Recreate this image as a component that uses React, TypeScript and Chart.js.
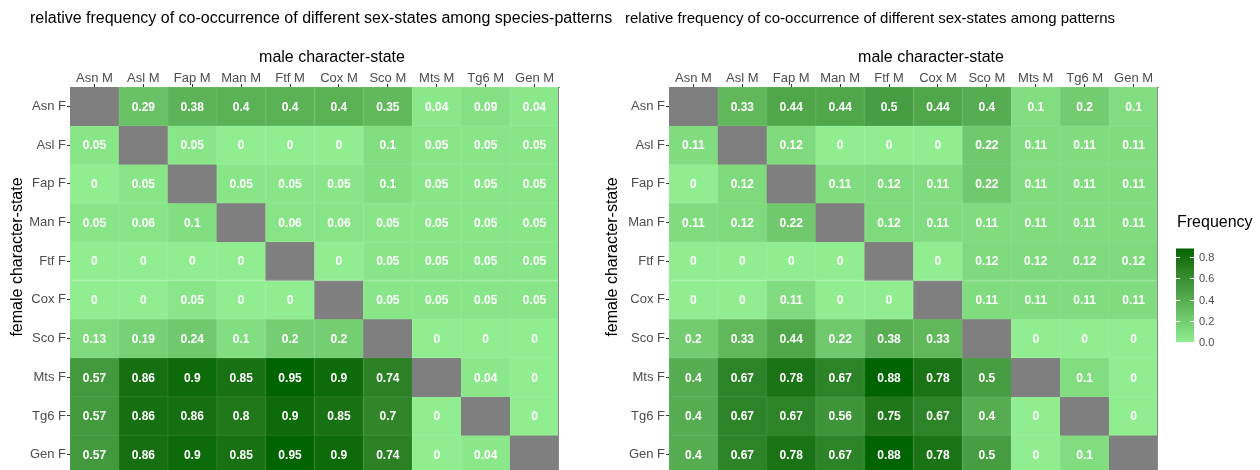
import React, { useEffect, useRef } from "react";
import { Chart, registerables } from "chart.js";

Chart.register(...registerables);

const maleStates = ["Asn M", "Asl M", "Fap M", "Man M", "Ftf M", "Cox M", "Sco M", "Mts M", "Tg6 M", "Gen M"];
const femaleStates = ["Asn F", "Asl F", "Fap F", "Man F", "Ftf F", "Cox F", "Sco F", "Mts F", "Tg6 F", "Gen F"];

// rows = female state, columns = male state; null = same state (diagonal)
const speciesFreq: (number | null)[][] = [
  [null, 0.29, 0.38, 0.4, 0.4, 0.4, 0.35, 0.04, 0.09, 0.04],
  [0.05, null, 0.05, 0, 0, 0, 0.1, 0.05, 0.05, 0.05],
  [0, 0.05, null, 0.05, 0.05, 0.05, 0.1, 0.05, 0.05, 0.05],
  [0.05, 0.06, 0.1, null, 0.06, 0.06, 0.05, 0.05, 0.05, 0.05],
  [0, 0, 0, 0, null, 0, 0.05, 0.05, 0.05, 0.05],
  [0, 0, 0.05, 0, 0, null, 0.05, 0.05, 0.05, 0.05],
  [0.13, 0.19, 0.24, 0.1, 0.2, 0.2, null, 0, 0, 0],
  [0.57, 0.86, 0.9, 0.85, 0.95, 0.9, 0.74, null, 0.04, 0],
  [0.57, 0.86, 0.86, 0.8, 0.9, 0.85, 0.7, 0, null, 0],
  [0.57, 0.86, 0.9, 0.85, 0.95, 0.9, 0.74, 0, 0.04, null],
];

const patternFreq: (number | null)[][] = [
  [null, 0.33, 0.44, 0.44, 0.5, 0.44, 0.4, 0.1, 0.2, 0.1],
  [0.11, null, 0.12, 0, 0, 0, 0.22, 0.11, 0.11, 0.11],
  [0, 0.12, null, 0.11, 0.12, 0.11, 0.22, 0.11, 0.11, 0.11],
  [0.11, 0.12, 0.22, null, 0.12, 0.11, 0.11, 0.11, 0.11, 0.11],
  [0, 0, 0, 0, null, 0, 0.12, 0.12, 0.12, 0.12],
  [0, 0, 0.11, 0, 0, null, 0.11, 0.11, 0.11, 0.11],
  [0.2, 0.33, 0.44, 0.22, 0.38, 0.33, null, 0, 0, 0],
  [0.4, 0.67, 0.78, 0.67, 0.88, 0.78, 0.5, null, 0.1, 0],
  [0.4, 0.67, 0.67, 0.56, 0.75, 0.67, 0.4, 0, null, 0],
  [0.4, 0.67, 0.78, 0.67, 0.88, 0.78, 0.5, 0, 0.1, null],
];

const legendTicks = [0, 0.2, 0.4, 0.6, 0.8];

const FONT = '"Liberation Sans", Arial, Helvetica, sans-serif';
const LOW = "#90EE90";
const HIGH = "#006400";
const NA_COLOR = "#7F7F7F";

// ---- Lab colour interpolation (like ggplot's scale_fill_gradient) ----
function hexToRgb(h: string): number[] {
  const n = parseInt(h.slice(1), 16);
  return [(n >> 16) & 255, (n >> 8) & 255, n & 255];
}
function toLin(c: number) {
  c /= 255;
  return c <= 0.04045 ? c / 12.92 : Math.pow((c + 0.055) / 1.055, 2.4);
}
function fromLin(c: number) {
  const v = c <= 0.0031308 ? 12.92 * c : 1.055 * Math.pow(c, 1 / 2.4) - 0.055;
  return Math.round(Math.max(0, Math.min(1, v)) * 255);
}
const XN = 0.95047, YN = 1, ZN = 1.08883;
function rgbToLab(rgb: number[]): number[] {
  const [R, G, B] = rgb.map(toLin);
  const X = 0.4124 * R + 0.3576 * G + 0.1805 * B;
  const Y = 0.2126 * R + 0.7152 * G + 0.0722 * B;
  const Z = 0.0193 * R + 0.1192 * G + 0.9505 * B;
  const f = (t: number) => (t > 0.008856 ? Math.cbrt(t) : 7.787 * t + 16 / 116);
  const fx = f(X / XN), fy = f(Y / YN), fz = f(Z / ZN);
  return [116 * fy - 16, 500 * (fx - fy), 200 * (fy - fz)];
}
function labToRgb(lab: number[]): number[] {
  const [L, a, b] = lab;
  const fy = (L + 16) / 116;
  const fx = fy + a / 500;
  const fz = fy - b / 200;
  const inv = (t: number) => (t * t * t > 0.008856 ? t * t * t : (t - 16 / 116) / 7.787);
  const X = inv(fx) * XN, Y = inv(fy) * YN, Z = inv(fz) * ZN;
  const R = 3.2406 * X - 1.5372 * Y - 0.4986 * Z;
  const G = -0.9689 * X + 1.8758 * Y + 0.0415 * Z;
  const B = 0.0557 * X - 0.204 * Y + 1.057 * Z;
  return [fromLin(R), fromLin(G), fromLin(B)];
}
const LOW_LAB = rgbToLab(hexToRgb(LOW));
const HIGH_LAB = rgbToLab(hexToRgb(HIGH));
function gradientRgb(t: number): number[] {
  const tt = Math.max(0, Math.min(1, t));
  const lab = LOW_LAB.map((v, i) => v + (HIGH_LAB[i] - v) * tt);
  return labToRgb(lab);
}
function gradient(t: number): string {
  const [r, g, b] = gradientRgb(t);
  return `rgb(${r},${g},${b})`;
}
function gradientEdge(t: number): string {
  const [r, g, b] = gradientRgb(t).map((c) => Math.round(c + (255 - c) * 0.07));
  return `rgb(${r},${g},${b})`;
}
function maxOf(m: (number | null)[][]) {
  let mx = 0;
  m.forEach((r) => r.forEach((v) => { if (v != null && v > mx) mx = v; }));
  return mx;
}

type PanelCfg = {
  matrix: (number | null)[][];
  title: string;
  titleSize: number;
  width: number;
  height: number;
  yWidth: number;
  padRight: number;
  titleX: number;
  xTitleX: number;
  yTitleX: number;
  yTitleY: number;
  legend?: { x: number; titleY: number; zeroY: number; pxPerUnit: number; max: number };
};

function makeChart(canvas: HTMLCanvasElement, cfg: PanelCfg) {
  const max = maxOf(cfg.matrix);
  const datasets = femaleStates.map((_, r) => ({
    label: femaleStates[r],
    data: maleStates.map(() => [r - 0.5, r + 0.5]),
    backgroundColor: cfg.matrix[r].map((v) => (v == null ? NA_COLOR : gradient(v / max))),
    borderColor: cfg.matrix[r].map((v) => (v == null ? NA_COLOR : gradientEdge(v / max))),
    borderWidth: 1,
    borderSkipped: false,
  }));

  const textPlugin = {
    id: "panelText",
    afterDatasetsDraw(chart: any) {
      const ctx = chart.ctx as CanvasRenderingContext2D;
      const area = chart.chartArea;
      ctx.save();
      // right edge of panel
      ctx.strokeStyle = "#8a8a8a";
      ctx.lineWidth = 1;
      ctx.beginPath();
      ctx.moveTo(Math.round(area.right) - 0.5, area.top);
      ctx.lineTo(Math.round(area.right) - 0.5, area.bottom);
      ctx.stroke();
      // cell values
      ctx.font = `bold 12px ${FONT}`;
      ctx.fillStyle = "#ffffff";
      ctx.textAlign = "center";
      ctx.textBaseline = "middle";
      chart.data.datasets.forEach((_: any, di: number) => {
        const meta = chart.getDatasetMeta(di);
        meta.data.forEach((el: any, ci: number) => {
          const v = cfg.matrix[di][ci];
          if (v == null) return;
          const p = el.getProps(["x", "y", "base"], true);
          ctx.fillText(String(v), p.x, (p.y + p.base) / 2 + 1);
        });
      });
      ctx.restore();
    },
    afterDraw(chart: any) {
      const ctx = chart.ctx as CanvasRenderingContext2D;
      ctx.save();
      ctx.fillStyle = "#000";
      ctx.textBaseline = "middle";
      ctx.font = `${cfg.titleSize}px ${FONT}`;
      ctx.textAlign = "left";
      ctx.fillText(cfg.title, cfg.titleX, 19);
      ctx.font = `16px ${FONT}`;
      ctx.textAlign = "center";
      ctx.fillText("male character-state", cfg.xTitleX, 58);
      ctx.save();
      ctx.translate(cfg.yTitleX, cfg.yTitleY);
      ctx.rotate(-Math.PI / 2);
      ctx.fillText("female character-state", 0, 0);
      ctx.restore();
      const lg = cfg.legend;
      if (lg) {
        ctx.font = `16px ${FONT}`;
        ctx.textAlign = "left";
        ctx.fillStyle = "#000";
        ctx.fillText("Frequency", lg.x + 1, lg.titleY);
        const top = lg.zeroY - lg.max * lg.pxPerUnit;
        const grad = ctx.createLinearGradient(0, lg.zeroY, 0, top);
        for (let i = 0; i <= 20; i++) grad.addColorStop(i / 20, gradient(i / 20));
        ctx.fillStyle = grad;
        ctx.fillRect(lg.x, top, 18, lg.zeroY - top);
        ctx.font = `11px ${FONT}`;
        ctx.strokeStyle = "#ffffff";
        ctx.lineWidth = 1;
        legendTicks.forEach((t) => {
          const y = Math.round(lg.zeroY - t * lg.pxPerUnit) + 0.5;
          ctx.beginPath();
          ctx.moveTo(lg.x, y);
          ctx.lineTo(lg.x + 4, y);
          ctx.moveTo(lg.x + 14, y);
          ctx.lineTo(lg.x + 18, y);
          ctx.stroke();
          ctx.fillStyle = "#4d4d4d";
          ctx.fillText(t.toFixed(1), lg.x + 23, y);
        });
      }
      ctx.restore();
    },
  };

  return new Chart(canvas, {
    type: "bar",
    data: { labels: maleStates, datasets: datasets as any },
    plugins: [textPlugin],
    options: {
      responsive: false,
      animation: false,
      layout: { padding: { left: 0, right: cfg.padRight, top: 0, bottom: cfg.height - 474 } },
      plugins: { legend: { display: false }, tooltip: { enabled: false }, title: { display: false } },
      datasets: { bar: { grouped: false, barPercentage: 1, categoryPercentage: 1 } } as any,
      scales: {
        x: {
          type: "category",
          position: "top",
          offset: true,
          grid: { offset: false, drawOnChartArea: false, drawTicks: true, tickLength: 3, color: "#333333", lineWidth: 1 },
          border: { display: true, color: "#8a8a8a" },
          ticks: { font: { family: FONT, size: 13 }, color: "#4d4d4d", padding: -2, maxRotation: 0, autoSkip: false },
          afterFit: (s: any) => { s.height = 87; },
        },
        y: {
          type: "linear",
          min: -0.5,
          max: 9.5,
          reverse: true,
          afterBuildTicks: (s: any) => { s.ticks = femaleStates.map((_, i) => ({ value: i })); },
          grid: { drawOnChartArea: false, drawTicks: true, tickLength: 3, color: "#333333", lineWidth: 1 },
          border: { display: true, color: "#333333" },
          ticks: {
            font: { family: FONT, size: 13 },
            color: "#4d4d4d",
            padding: 1,
            autoSkip: false,
            callback: (v: any) => femaleStates[Math.round(Number(v))] ?? "",
          },
          afterFit: (s: any) => { s.width = cfg.yWidth; },
        },
      },
    } as any,
  });
}

function Panel({ cfg, left }: { cfg: PanelCfg; left: number }) {
  const ref = useRef<HTMLCanvasElement | null>(null);
  useEffect(() => {
    if (!ref.current) return;
    const ch = makeChart(ref.current, cfg);
    return () => ch.destroy();
  }, []);
  return (
    <canvas
      ref={ref}
      width={cfg.width}
      height={cfg.height}
      style={{ position: "absolute", left, top: 0, width: cfg.width, height: cfg.height }}
    />
  );
}

const leftCfg: PanelCfg = {
  matrix: speciesFreq,
  title: "relative frequency of co-occurrence of different sex-states among species-patterns",
  titleSize: 16,
  width: 620,
  height: 500,
  yWidth: 70,
  padRight: 620 - 559,
  titleX: 30,
  xTitleX: 332,
  yTitleX: 18,
  yTitleY: 257,
};

const rightCfg: PanelCfg = {
  matrix: patternFreq,
  title: "relative frequency of co-occurrence of different sex-states among patterns",
  titleSize: 15,
  width: 660,
  height: 500,
  yWidth: 69,
  padRight: 660 - 558,
  titleX: 25,
  xTitleX: 331,
  yTitleX: 13,
  yTitleY: 257,
  legend: { x: 576, titleY: 223, zeroY: 342, pxPerUnit: 106.25, max: maxOf(patternFreq) },
};

export default function App() {
  return (
    <div style={{ position: "fixed", left: 0, top: 0, width: 1260, height: 470, overflow: "hidden", background: "#fff" }}>
      <Panel cfg={leftCfg} left={0} />
      <Panel cfg={rightCfg} left={600} />
    </div>
  );
}
